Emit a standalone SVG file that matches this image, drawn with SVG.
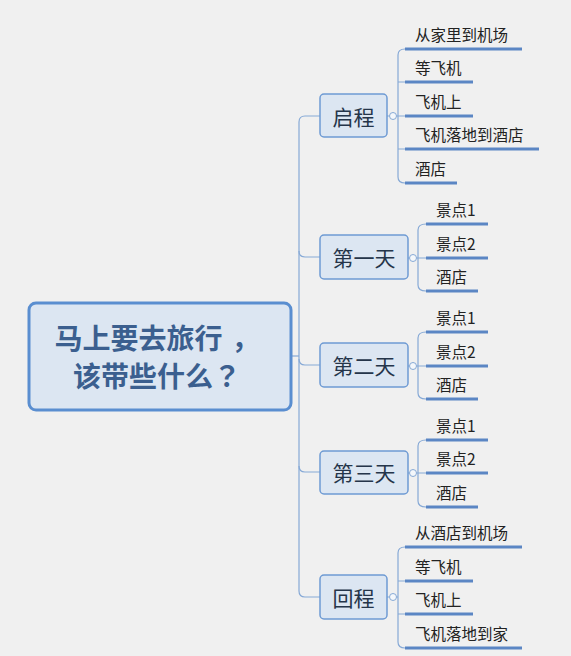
<svg xmlns="http://www.w3.org/2000/svg" width="571" height="656" viewBox="0 0 571 656">
<style>
.bg{fill:#f0f0f0}
.root{fill:#dce6f2;stroke:#5a8ed0;stroke-width:3}
.roott{font-family:"Noto Sans CJK SC","Noto Sans",sans-serif;font-size:28px;font-weight:bold;fill:#3b5f8f;text-anchor:middle}
.p{font-family:"Noto Sans CJK TC","Noto Sans CJK SC",sans-serif}
.n1{fill:#dce6f2;stroke:#6e9ad3;stroke-width:1.5}
.n1t{font-family:"Noto Sans CJK SC","Noto Sans",sans-serif;font-size:21px;fill:#25354a;text-anchor:middle;dominant-baseline:central}
.c{fill:none;stroke:#86a9d6;stroke-width:1.2}
.dot{fill:#f4f7fb;stroke:#86a9d6;stroke-width:1}
.ul{stroke:#5b86c4;stroke-width:3}
.lt{font-family:"Noto Sans CJK SC","Noto Sans",sans-serif;font-size:15.5px;fill:#222}
</style>
<rect class="bg" width="571" height="656"/>
<g id="connectors">
<path class="c" d="M292 356 H299"/>
<path class="c" d="M320 116 H305 Q299 116 299 122 V591 Q299 597 305 597 H320"/>
<path class="c" d="M299 251 Q299 257 305 257 H320"/>
<path class="c" d="M299 359 Q299 365 305 365 H320"/>
<path class="c" d="M299 466 Q299 472 305 472 H320"/>
<path class="c" d="M387 116 H389.5 M396.5 116 H405 M405 49 Q398 49 398 55 V177 Q398 183 405 183 M398 82 H405 M398 149 H405"/>
<circle class="dot" cx="393" cy="116" r="3.5"/>
<path class="c" d="M408 258 H409.5 M416.5 258 H426 M426 224 Q418 224 418 230 V285 Q418 291 426 291"/>
<circle class="dot" cx="413" cy="258" r="3.5"/>
<path class="c" d="M408 366 H409.5 M416.5 366 H426 M426 332 Q418 332 418 338 V393 Q418 399 426 399"/>
<circle class="dot" cx="413" cy="366" r="3.5"/>
<path class="c" d="M408 473 H409.5 M416.5 473 H426 M426 440 Q418 440 418 446 V501 Q418 507 426 507"/>
<circle class="dot" cx="413" cy="473" r="3.5"/>
<path class="c" d="M387 597 H389.5 M396.5 597 H398 M405 547 Q398 547 398 553 V642 Q398 648 405 648 M398 581 H405 M398 614 H405"/>
<circle class="dot" cx="393" cy="597" r="3.5"/>
</g>
<g id="root">
<rect class="root" x="29" y="303" width="262" height="107" rx="7"/>
<text class="roott" x="157" y="349">马上要去旅行<tspan dx="9">，</tspan></text>
<text class="roott" x="157" y="387">该带些什么<tspan class="p">？</tspan></text>
</g>
<g id="n-qicheng">
<rect class="n1" x="320" y="94" width="67" height="43" rx="4"/>
<text class="n1t" x="353.5" y="116">启程</text>
</g>
<g id="n-day1">
<rect class="n1" x="320" y="235" width="88" height="44" rx="4"/>
<text class="n1t" x="364" y="257">第一天</text>
</g>
<g id="n-day2">
<rect class="n1" x="320" y="343" width="88" height="44" rx="4"/>
<text class="n1t" x="364" y="365">第二天</text>
</g>
<g id="n-day3">
<rect class="n1" x="320" y="451" width="88" height="43" rx="4"/>
<text class="n1t" x="364" y="472">第三天</text>
</g>
<g id="n-huicheng">
<rect class="n1" x="320" y="575" width="67" height="44" rx="4"/>
<text class="n1t" x="353.5" y="597">回程</text>
</g>
<g id="l-q1"><line class="ul" x1="405" y1="49" x2="522" y2="49"/><text class="lt" x="415" y="41">从家里到机场</text></g>
<g id="l-q2"><line class="ul" x1="405" y1="82" x2="473" y2="82"/><text class="lt" x="415" y="74">等飞机</text></g>
<g id="l-q3"><line class="ul" x1="405" y1="116" x2="473" y2="116"/><text class="lt" x="415" y="108">飞机上</text></g>
<g id="l-q4"><line class="ul" x1="405" y1="149" x2="539" y2="149"/><text class="lt" x="415" y="141">飞机落地到酒店</text></g>
<g id="l-q5"><line class="ul" x1="405" y1="183" x2="457" y2="183"/><text class="lt" x="415" y="175">酒店</text></g>
<g id="l-d11"><line class="ul" x1="426" y1="224" x2="488" y2="224"/><text class="lt" x="436" y="216">景点1</text></g>
<g id="l-d12"><line class="ul" x1="426" y1="258" x2="488" y2="258"/><text class="lt" x="436" y="250">景点2</text></g>
<g id="l-d13"><line class="ul" x1="426" y1="291" x2="478" y2="291"/><text class="lt" x="436" y="283">酒店</text></g>
<g id="l-d21"><line class="ul" x1="426" y1="332" x2="488" y2="332"/><text class="lt" x="436" y="324">景点1</text></g>
<g id="l-d22"><line class="ul" x1="426" y1="366" x2="488" y2="366"/><text class="lt" x="436" y="358">景点2</text></g>
<g id="l-d23"><line class="ul" x1="426" y1="399" x2="478" y2="399"/><text class="lt" x="436" y="391">酒店</text></g>
<g id="l-d31"><line class="ul" x1="426" y1="440" x2="488" y2="440"/><text class="lt" x="436" y="432">景点1</text></g>
<g id="l-d32"><line class="ul" x1="426" y1="473" x2="488" y2="473"/><text class="lt" x="436" y="465">景点2</text></g>
<g id="l-d33"><line class="ul" x1="426" y1="507" x2="478" y2="507"/><text class="lt" x="436" y="499">酒店</text></g>
<g id="l-h1"><line class="ul" x1="405" y1="547" x2="522" y2="547"/><text class="lt" x="415" y="539">从酒店到机场</text></g>
<g id="l-h2"><line class="ul" x1="405" y1="581" x2="473" y2="581"/><text class="lt" x="415" y="573">等飞机</text></g>
<g id="l-h3"><line class="ul" x1="405" y1="614" x2="473" y2="614"/><text class="lt" x="415" y="606">飞机上</text></g>
<g id="l-h4"><line class="ul" x1="405" y1="648" x2="522" y2="648"/><text class="lt" x="415" y="640">飞机落地到家</text></g>
</svg>
